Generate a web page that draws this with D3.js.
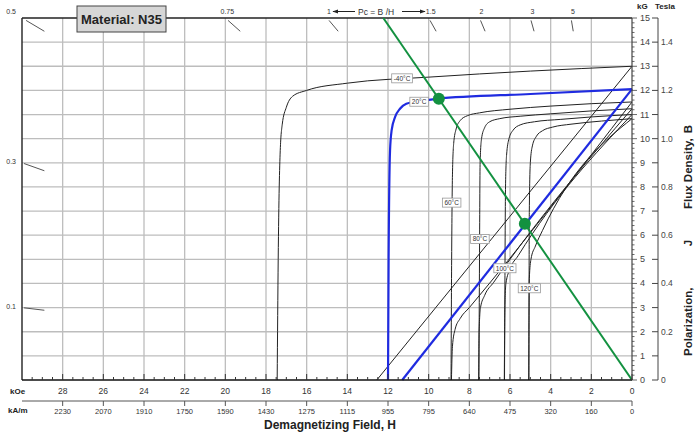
<!DOCTYPE html>
<html>
<head>
<meta charset="utf-8">
<script src="https://cdn.jsdelivr.net/npm/d3@7"></script>
<style>
  body { margin: 0; background: #fff; }
  svg { display: block; font-family: "Liberation Sans", Arial, sans-serif; }
</style>
</head>
<body>
<div id="vis"></div>
<script>
// tick values for the axes
const koeTicks = [28, 26, 24, 22, 20, 18, 16, 14, 12, 10, 8, 6, 4, 2, 0];
const kamLabels = ["2230", "2070", "1910", "1750", "1590", "1430", "1275", "1115", "955", "795", "640", "475", "320", "160", "0"];
const kgTicks = [0, 1, 2, 3, 4, 5, 6, 7, 8, 9, 10, 11, 12, 13, 14, 15];
const teslaTicks = [0, 0.1, 0.2, 0.3, 0.4, 0.5, 0.6, 0.7, 0.8, 0.9, 1.0, 1.1, 1.2, 1.3, 1.4, 1.5];
const teslaLabels = [0, 0.2, 0.4, 0.6, 0.8, 1.0, 1.2, 1.4];

// permeance coefficient marks (top edge and left edge)
const pcTop = [0.5, 0.75, 1, 1.5, 2, 3, 5];
const pcLeft = [0.3, 0.1];

const temps = ["-40°C", "20°C", "60°C", "80°C", "100°C", "120°C"];

// intrinsic curves J, points are [H kOe, J kG]
const jM40 = [[0, 13.0], [5, 12.8], [10, 12.55], [14, 12.3], [16, 12.0], [16.7, 11.75], [17.0, 11.3], [17.2, 10.6], [17.3, 9.5], [17.4, 5], [17.45, 0]];
const j20 = [[0, 12.05], [5, 11.85], [9.6, 11.65], [10.5, 11.55], [11.1, 11.45], [11.4, 11.25], [11.65, 10.9], [11.82, 10.35], [11.9, 9.5], [11.97, 5], [12.0, 0]];
const j60 = [[0, 11.52], [2, 11.45], [4, 11.35], [6, 11.22], [7.5, 11.07], [8.1, 10.95], [8.45, 10.75], [8.65, 10.4], [8.77, 9.8], [8.83, 8.5], [8.87, 5], [8.9, 0]];
const j80 = [[0, 11.24], [2, 11.15], [4, 11.03], [5.5, 10.93], [6.5, 10.83], [7.0, 10.7], [7.25, 10.45], [7.4, 10.0], [7.47, 9.0], [7.5, 5], [7.53, 0]];
const j100 = [[0, 11.0], [2, 10.9], [3.5, 10.8], [4.8, 10.7], [5.5, 10.57], [5.85, 10.35], [6.05, 10.0], [6.17, 9.3], [6.22, 8], [6.25, 4], [6.27, 0]];
const j120 = [[0, 10.83], [1.5, 10.73], [3, 10.6], [3.9, 10.48], [4.4, 10.33], [4.7, 10.1], [4.9, 9.7], [5.0, 9.0], [5.05, 7], [5.07, 0]];

// normal curves B, points are [H kOe, B kG]
const bM40 = [[0, 13.0], [12.55, 0]];
const b20 = [[0, 12.05], [11.3, 0]];
const b60 = [[0, 11.52], [8.0, 3.0], [8.45, 2.55], [8.7, 2.1], [8.83, 1.4], [8.88, 0]];
const b80 = [[0, 11.24], [6.8, 4.05], [7.25, 3.5], [7.45, 3.0], [7.52, 2.0], [7.54, 0]];
const b100 = [[0, 11.0], [5.6, 5.15], [6.0, 4.6], [6.2, 4.0], [6.25, 3.0], [6.28, 0]];
const b120 = [[0, 10.83], [4.4, 6.2], [4.75, 5.55], [4.97, 5.0], [5.05, 4.2], [5.08, 0]];

// load line and working points
const loadLine = [[0, 0], [12.23, 15]];
const workPoints = [[9.5, 11.65], [5.27, 6.47]];

// where the temperature tags sit, [H kOe, B kG]
const tagAt = [[11.31, 12.5], [10.47, 11.53], [8.87, 7.35], [7.48, 5.84], [6.25, 4.63], [5.05, 3.8]];

const width = 700;
const height = 436;
const blue = "#1f2be0";
const green = "#139140";

const x = d3.scaleLinear().domain([30, 0]).range([22, 632]);
const y = d3.scaleLinear().domain([0, 15]).range([380, 18]);
const yT = d3.scaleLinear().domain([0, 1.5]).range([380, 18]);

const svg = d3.select("#vis").append("svg")
  .attr("width", width)
  .attr("height", height);

// grid
const grid = svg.append("g").attr("stroke", "#bdbdbd").attr("stroke-width", 1.3);
grid.selectAll(".gv")
  .data(koeTicks.filter((d) => d > 0))
  .enter().append("line")
  .attr("x1", (d) => x(d)).attr("x2", (d) => x(d))
  .attr("y1", y(15)).attr("y2", y(0));
grid.selectAll(".gh")
  .data(kgTicks.filter((d) => d > 0 && d < 15))
  .enter().append("line")
  .attr("x1", x(30)).attr("x2", x(0))
  .attr("y1", (d) => y(d)).attr("y2", (d) => y(d));

// frame
svg.append("line").attr("x1", x(30)).attr("x2", x(0)).attr("y1", y(15)).attr("y2", y(15))
  .attr("stroke", "#222").attr("stroke-width", 1.6);
svg.append("line").attr("x1", x(30)).attr("x2", x(30)).attr("y1", y(15)).attr("y2", y(0))
  .attr("stroke", "#222").attr("stroke-width", 1.4);

// Pc marks
const pcMarks = svg.append("g").attr("stroke", "#555").attr("stroke-width", 1);
pcTop.forEach((pc) => {
  pcMarks.append("line")
    .attr("x1", x(14.9 / pc)).attr("y1", y(14.9))
    .attr("x2", x(14.45 / pc)).attr("y2", y(14.45));
  const px = x(15 / pc);
  svg.append("text")
    .attr("x", px < 40 ? px - 6 : px + 2)
    .attr("y", 14)
    .attr("text-anchor", px < 40 ? "end" : "middle")
    .attr("font-size", 7)
    .attr("fill", "#333")
    .text(pc);
});
pcLeft.forEach((pc) => {
  pcMarks.append("line")
    .attr("x1", x(29.9)).attr("y1", y(29.9 * pc))
    .attr("x2", x(28.9)).attr("y2", y(28.9 * pc));
  svg.append("text")
    .attr("x", 16).attr("y", y(30 * pc) + 1)
    .attr("text-anchor", "end")
    .attr("font-size", 7)
    .attr("fill", "#333")
    .text(pc);
});

// Pc = B/H header with arrows
svg.append("defs").append("marker")
  .attr("id", "ah").attr("viewBox", "0 0 10 10").attr("refX", 9).attr("refY", 5)
  .attr("markerWidth", 6).attr("markerHeight", 6).attr("orient", "auto")
  .append("path").attr("d", "M0,1.5L10,5L0,8.5Z").attr("fill", "#222");
svg.append("line").attr("x1", 355).attr("x2", 333).attr("y1", 11.5).attr("y2", 11.5)
  .attr("stroke", "#222").attr("stroke-width", 1).attr("marker-end", "url(#ah)");
svg.append("line").attr("x1", 402).attr("x2", 425).attr("y1", 11.5).attr("y2", 11.5)
  .attr("stroke", "#222").attr("stroke-width", 1).attr("marker-end", "url(#ah)");
svg.append("text").attr("x", 358).attr("y", 14.5).attr("font-size", 8.5).attr("fill", "#333")
  .text("Pc = B /H");

// curves
const line = d3.line()
  .x((d) => x(d[0]))
  .y((d) => y(d[1]))
  .curve(d3.curveMonotoneX);

const curves = [
  { pts: jM40, color: "#222", w: 1 },
  { pts: j60, color: "#222", w: 1 },
  { pts: j80, color: "#222", w: 1 },
  { pts: j100, color: "#222", w: 1 },
  { pts: j120, color: "#222", w: 1 },
  { pts: bM40, color: "#222", w: 1 },
  { pts: b60, color: "#222", w: 1 },
  { pts: b80, color: "#222", w: 1 },
  { pts: b100, color: "#222", w: 1 },
  { pts: b120, color: "#222", w: 1 },
  { pts: j20, color: blue, w: 2.2 },
  { pts: b20, color: blue, w: 2.2 },
];

svg.append("g").selectAll("path")
  .data(curves)
  .enter().append("path")
  .attr("d", (d) => line(d.pts.slice().sort((a, b) => b[0] - a[0])))
  .attr("fill", "none")
  .attr("stroke", (d) => d.color)
  .attr("stroke-width", (d) => d.w);

// load line + working points
svg.append("path")
  .attr("d", d3.line().x((d) => x(d[0])).y((d) => y(d[1]))(loadLine))
  .attr("fill", "none").attr("stroke", green).attr("stroke-width", 2);
svg.selectAll(".wp")
  .data(workPoints)
  .enter().append("circle")
  .attr("cx", (d) => x(d[0])).attr("cy", (d) => y(d[1]))
  .attr("r", 6).attr("fill", green);

// temperature tags
const tags = svg.append("g").selectAll("g")
  .data(temps)
  .enter().append("g")
  .attr("transform", (d, i) => `translate(${x(tagAt[i][0])},${y(tagAt[i][1])})`);
tags.append("rect");
tags.append("text")
  .attr("text-anchor", "middle").attr("y", 2.3)
  .attr("font-size", 6.5).attr("fill", "#333")
  .text((d) => d);
tags.each(function () {
  const t = d3.select(this).select("text").node().getComputedTextLength();
  d3.select(this).select("rect")
    .attr("x", -t / 2 - 2).attr("y", -4.5)
    .attr("width", t + 4).attr("height", 9)
    .attr("fill", "#fff").attr("stroke", "#999").attr("stroke-width", 0.8);
});

// bottom axis (kOe)
svg.append("line").attr("x1", x(30)).attr("x2", x(0)).attr("y1", y(0)).attr("y2", y(0))
  .attr("stroke", "#111").attr("stroke-width", 1.6);
svg.append("g").selectAll("line")
  .data(d3.range(0, 30, 0.5))
  .enter().append("line")
  .attr("x1", (d) => x(d)).attr("x2", (d) => x(d))
  .attr("y1", y(0)).attr("y2", (d) => y(0) - (d % 2 === 0 ? 6 : 3))
  .attr("stroke", "#333").attr("stroke-width", 1);
svg.append("g").selectAll("text")
  .data(koeTicks)
  .enter().append("text")
  .attr("x", (d) => x(d)).attr("y", 394)
  .attr("text-anchor", "middle").attr("font-size", 8.5).attr("fill", "#333")
  .text((d) => d);
svg.append("text").attr("x", 10).attr("y", 394).attr("font-size", 8).attr("font-weight", "bold")
  .attr("fill", "#222").text("kOe");

// second bottom axis (kA/m)
svg.append("line").attr("x1", x(30)).attr("x2", x(0)).attr("y1", 401).attr("y2", 401)
  .attr("stroke", "#555").attr("stroke-width", 1);
svg.append("g").selectAll("line")
  .data(koeTicks)
  .enter().append("line")
  .attr("x1", (d) => x(d)).attr("x2", (d) => x(d))
  .attr("y1", 401).attr("y2", 406)
  .attr("stroke", "#555").attr("stroke-width", 1);
svg.append("g").selectAll("text")
  .data(koeTicks)
  .enter().append("text")
  .attr("x", (d) => x(d)).attr("y", 414)
  .attr("text-anchor", "middle").attr("font-size", 7.5).attr("fill", "#333")
  .text((d, i) => kamLabels[i]);
svg.append("text").attr("x", 8).attr("y", 413).attr("font-size", 8).attr("font-weight", "bold")
  .attr("fill", "#222").text("kA/m");
svg.append("text").attr("x", 330).attr("y", 429).attr("text-anchor", "middle")
  .attr("font-size", 12).attr("font-weight", "bold").attr("fill", "#222")
  .text("Demagnetizing Field, H");

// right axis (kG)
svg.append("line").attr("x1", x(0)).attr("x2", x(0)).attr("y1", y(15)).attr("y2", y(0))
  .attr("stroke", "#444").attr("stroke-width", 1.2);
svg.append("g").selectAll("line")
  .data(d3.range(0, 15.01, 0.2))
  .enter().append("line")
  .attr("x1", x(0)).attr("x2", (d, i) => x(0) + (i % 5 === 0 ? 5 : 2.5))
  .attr("y1", (d) => y(d)).attr("y2", (d) => y(d))
  .attr("stroke", "#444").attr("stroke-width", 0.8);
svg.append("g").selectAll("text")
  .data(kgTicks)
  .enter().append("text")
  .attr("x", 640).attr("y", (d) => y(d) + 3)
  .attr("font-size", 9).attr("fill", "#444")
  .text((d) => d);
svg.append("text").attr("x", 637).attr("y", 9).attr("font-size", 8).attr("font-weight", "bold")
  .attr("fill", "#222").text("kG");

// Tesla axis
svg.append("line").attr("x1", 658).attr("x2", 658).attr("y1", yT(1.5)).attr("y2", yT(0))
  .attr("stroke", "#444").attr("stroke-width", 1);
svg.append("g").selectAll("line")
  .data(teslaTicks)
  .enter().append("line")
  .attr("x1", 658).attr("x2", 652)
  .attr("y1", (d) => yT(d)).attr("y2", (d) => yT(d))
  .attr("stroke", "#444").attr("stroke-width", 1);
svg.append("g").selectAll("text")
  .data(teslaLabels)
  .enter().append("text")
  .attr("x", 661).attr("y", (d) => yT(d) + 3)
  .attr("font-size", 8.5).attr("fill", "#444")
  .text((d) => (d === 0 ? "0" : d.toFixed(1)));
svg.append("text").attr("x", 655).attr("y", 9).attr("font-size", 8).attr("font-weight", "bold")
  .attr("fill", "#222").text("Tesla");

// vertical axis title
const yTitle = svg.append("g").attr("transform", "translate(692,0) rotate(-90)")
  .attr("font-size", 11.5).attr("font-weight", "bold").attr("fill", "#222");
yTitle.append("text").attr("x", -356).text("Polarization,");
yTitle.append("text").attr("x", -243).attr("text-anchor", "middle").text("J");
yTitle.append("text").attr("x", -209).text("Flux Density,");
yTitle.append("text").attr("x", -129).attr("text-anchor", "middle").text("B");

// material tag
svg.append("rect").attr("x", 77).attr("y", 6).attr("width", 89).attr("height", 26)
  .attr("fill", "#d6d6d6").attr("stroke", "#444").attr("stroke-width", 1);
svg.append("text").attr("x", 121.5).attr("y", 24).attr("text-anchor", "middle")
  .attr("font-size", 13).attr("font-weight", "bold").attr("fill", "#222")
  .text("Material: N35");
</script>
</body>
</html>
